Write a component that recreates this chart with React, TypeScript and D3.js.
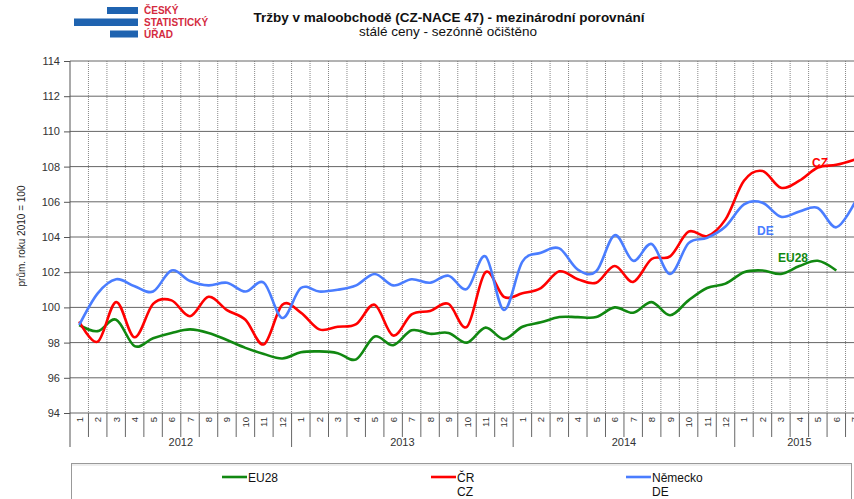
import { useEffect, useRef } from "react";
import * as d3 from "d3";

const years = ["2012", "2013", "2014", "2015"];
const monthsPerYear = [12, 12, 12, 7];
const monthLabels = years.flatMap((y, i) =>
  d3.range(1, monthsPerYear[i] + 1).map((m) => String(m))
);
const yTicks = [94, 96, 98, 100, 102, 104, 106, 108, 110, 112, 114];

const eu28 = [
  99.0, 98.65, 99.3, 97.8, 98.25, 98.55, 98.75, 98.55, 98.15, 97.7, 97.35, 97.1,
  97.45, 97.5, 97.4, 97.05, 98.35, 97.85, 98.7, 98.5, 98.55, 98.0, 98.85, 98.2,
  98.9, 99.15, 99.45, 99.45, 99.45, 100.0, 99.7, 100.3, 99.55, 100.4, 101.1, 101.35,
  102.0, 102.1, 101.9, 102.35, 102.65, 102.1,
];
const cz = [
  99.2, 98.05, 100.3, 98.3, 100.2, 100.4, 99.5, 100.6, 99.85, 99.3, 97.9, 100.15,
  99.7, 98.75, 98.9, 99.05, 100.15, 98.4, 99.6, 99.8, 100.2, 98.9, 102.0, 100.6,
  100.8, 101.1, 102.05, 101.6, 101.4, 102.35, 101.45, 102.75, 102.9, 104.3, 104.05, 105.0,
  107.2, 107.75, 106.8, 107.2, 107.95, 108.1, 108.4,
];
const de = [
  99.0, 100.8, 101.6, 101.2, 100.9, 102.1, 101.5, 101.25, 101.4, 100.9, 101.4, 99.4,
  101.1, 100.9, 101.0, 101.25, 101.9, 101.25, 101.6, 101.4, 101.8, 101.05, 102.9, 99.85,
  102.6, 103.1, 103.35, 102.15, 102.05, 104.1, 102.65, 103.6, 101.9, 103.65, 103.95, 104.6,
  105.85, 105.95, 105.15, 105.45, 105.65, 104.55, 105.95,
];

const font = "'Liberation Sans', Arial, sans-serif";
const W = 854;
const H = 499;
const left = 70;
const right = 864;
const top = 61;
const bottom = 413;

const series = [
  { name: "EU28", sub: "", values: eu28, color: "#118811", tag: "EU28", tagX: 778, tagY: 262, legX: 222 },
  { name: "ČR", sub: "CZ", values: cz, color: "#ff0000", tag: "CZ", tagX: 812, tagY: 167, legX: 431 },
  { name: "Německo", sub: "DE", values: de, color: "#4a7dff", tag: "DE", tagX: 757, tagY: 235, legX: 626 },
];

function AxisLeft({ scale }) {
  const ref = useRef(null);

  useEffect(() => {
    if (ref.current) {
      const g = d3.select(ref.current);
      g.call(d3.axisLeft(scale).tickValues(yTicks).tickSize(6).tickPadding(4));
      g.select(".domain").remove();
      g.selectAll("line").attr("stroke", "#555");
      g.selectAll("text")
        .attr("fill", "#333")
        .style("font-family", font)
        .style("font-size", "11px");
    }
  }, [scale]);

  return <g ref={ref} transform={`translate(${left},0)`} />;
}

export default function App() {
  const x = d3
    .scaleBand<number>()
    .domain(d3.range(monthLabels.length))
    .range([left, right]);
  const y = d3.scaleLinear().domain([94, 114]).range([bottom, top]);
  const step = x.step();

  const line = d3
    .line<number>()
    .x((_, i) => x(i)! + step / 2)
    .y((d) => y(d))
    .curve(d3.curveCatmullRom.alpha(0));

  let acc = 0;
  const yearStarts = monthsPerYear.map((n) => {
    const s = acc;
    acc += n;
    return s;
  });

  return (
    <svg
      width={W}
      height={H}
      style={{ position: "absolute", left: 0, top: 0, display: "block", background: "#fff" }}
      fontFamily={font}
    >
      {/* logo */}
      <g>
        <rect x={107} y={7} width={31} height={7} fill="#1f63b0" />
        <rect x={74} y={18.5} width={64} height={7.5} fill="#1f63b0" />
        <rect x={110} y={30.5} width={28} height={7} fill="#1f63b0" />
        <g fill="#d42a3e" fontWeight="bold" fontSize={10}>
          <text x={144} y={14}>ČESKÝ</text>
          <text x={144} y={26}>STATISTICKÝ</text>
          <text x={144} y={38}>ÚŘAD</text>
        </g>
      </g>

      <text x={449} y={22} textAnchor="middle" fontWeight="bold" fontSize={13.5} fill="#111">
        Tržby v maloobchodě (CZ-NACE 47) - mezinárodní porovnání
      </text>
      <text x={448} y={36} textAnchor="middle" fontSize={13.5} fill="#111">
        stálé ceny - sezónně očištěno
      </text>

      {/* vertical grid */}
      {d3.range(1, monthLabels.length).map((i) => (
        <line
          key={"v" + i}
          x1={x(i)}
          x2={x(i)}
          y1={top}
          y2={bottom}
          stroke="#888"
          strokeDasharray="1,1"
        />
      ))}
      {/* horizontal grid */}
      {yTicks.map((t) => (
        <line key={"h" + t} x1={left} x2={W} y1={y(t)} y2={y(t)} stroke="#666" />
      ))}
      <line x1={left} x2={left} y1={top} y2={447} stroke="#555" />
      <AxisLeft scale={y} />

      {/* x axis */}
      {d3.range(1, monthLabels.length).map((i) => (
        <line
          key={"t" + i}
          x1={x(i)}
          x2={x(i)}
          y1={bottom}
          y2={yearStarts.includes(i) ? 447 : 437}
          stroke="#666"
        />
      ))}
      {monthLabels.map((m, i) => (
        <text
          key={"m" + i}
          transform={`translate(${x(i)! + step / 2 + 3.5},417) rotate(-90)`}
          textAnchor="end"
          fontSize={9.5}
          fill="#333"
        >
          {m}
        </text>
      ))}
      {years.map((yr, i) => (
        <text
          key={yr}
          x={(x(yearStarts[i])! + x(yearStarts[i])! + monthsPerYear[i] * step) / 2}
          y={446}
          textAnchor="middle"
          fontSize={11}
          fill="#333"
        >
          {yr}
        </text>
      ))}

      <text
        transform={`translate(25,236) rotate(-90)`}
        textAnchor="middle"
        fontSize={10}
        fill="#222"
      >
        prům. roku 2010 = 100
      </text>

      {/* lines */}
      {series.map((s) => (
        <path
          key={s.name}
          d={line(s.values)!}
          fill="none"
          stroke={s.color}
          strokeWidth={2.6}
          strokeLinejoin="round"
        />
      ))}
      {series.map((s) => (
        <text key={"tag" + s.name} x={s.tagX} y={s.tagY} fill={s.color} fontWeight="bold" fontSize={12}>
          {s.tag}
        </text>
      ))}

      {/* legend */}
      <rect x={71.5} y={463.5} width={780} height={60} fill="#fff" stroke="#999" />
      <line x1={72} x2={851} y1={465} y2={465} stroke="#ddd" />
      {series.map((s) => (
        <g key={"leg" + s.name}>
          <line x1={s.legX} x2={s.legX + 25} y1={477} y2={477} stroke={s.color} strokeWidth={2.6} />
          <text x={s.legX + 26} y={482} fontSize={12} fill="#111">
            {s.name}
          </text>
          {s.sub && (
            <text x={s.legX + 26} y={496} fontSize={12} fill="#111">
              {s.sub}
            </text>
          )}
        </g>
      ))}
    </svg>
  );
}
